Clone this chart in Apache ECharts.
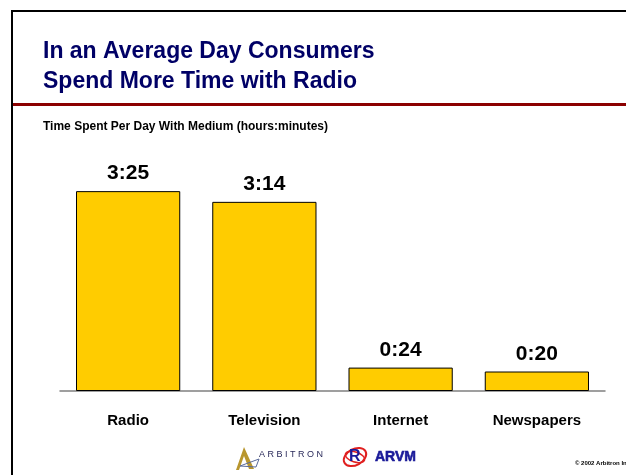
<!DOCTYPE html>
<html><head><meta charset="utf-8">
<script src="https://cdn.jsdelivr.net/npm/echarts@6/dist/echarts.min.js"></script>
<style>html,body{margin:0;padding:0;background:#fff}#c{width:626px;height:475px}</style>
</head><body><div id="c"></div>
<script>
const categories = ['Radio', 'Television', 'Internet', 'Newspapers'];
const minutesPerDay = [205, 194, 24, 20];
const valueLabels = ['3:25', '3:14', '0:24', '0:20'];

const chart = echarts.init(document.getElementById('c'), null, {renderer: 'canvas'});
const F = 'Liberation Sans, Arial, sans-serif';
chart.setOption({
  animation: false,
  backgroundColor: '#fff',
  grid: {left: 60, right: 21, top: 157, height: 234, containLabel: false},
  xAxis: {
    type: 'category', data: categories,
    axisLine: {lineStyle: {color: '#808080', width: 1.5}},
    axisTick: {show: false},
    axisLabel: {color: '#000', fontFamily: F, fontWeight: 'bold', fontSize: 15, margin: 22}
  },
  yAxis: {type: 'value', min: 0, max: 240, show: false, splitLine: {show: false}},
  series: [{
    type: 'bar', data: minutesPerDay, barCategoryGap: '23.5%',
    itemStyle: {color: '#FFCC00', borderColor: '#000', borderWidth: 1},
    label: {show: true, position: 'top', distance: 7, fontFamily: F, fontWeight: 'bold', fontSize: 21, color: '#000',
      formatter: p => valueLabels[p.dataIndex]}
  }],
  graphic: [
    {type: 'line', shape: {x1: 12, y1: 11, x2: 626, y2: 11}, style: {stroke: '#000', lineWidth: 2}},
    {type: 'line', shape: {x1: 12, y1: 10, x2: 12, y2: 475}, style: {stroke: '#000', lineWidth: 2}},
    {type: 'rect', shape: {x: 13, y: 103, width: 613, height: 3}, style: {fill: '#8B0000'}},
    {type: 'text', x: 43, y: 37, style: {text: 'In an Average Day Consumers\nSpend More Time with Radio', fill: '#000066', font: 'bold 23px ' + F, lineHeight: 30}},
    {type: 'text', x: 43, y: 121, style: {text: 'Time Spent Per Day With Medium (hours:minutes)', fill: '#000', font: 'bold 12px ' + F}},
    // Arbitron logo
    {type: 'polygon', shape: {points: [[236, 470], [244, 447], [254, 469], [249, 469], [244, 456], [239, 470]]}, style: {fill: '#B8962E'}},
    {type: 'polygon', shape: {points: [[240, 466], [259, 459], [256, 467]]}, style: {fill: 'none', stroke: '#5a6a9a', lineWidth: 1}},
    {type: 'text', x: 259, y: 450, style: {text: 'A R B I T R O N', fill: '#2a2a5a', font: '9px ' + F}},
    // ARVM logo
    {type: 'ellipse', shape: {cx: 355, cy: 457, rx: 12, ry: 8}, rotation: 0.5, originX: 355, originY: 457, style: {fill: 'none', stroke: '#E02020', lineWidth: 2}},
    {type: 'ellipse', shape: {cx: 355, cy: 457, rx: 10, ry: 5}, rotation: -0.3, originX: 355, originY: 457, style: {fill: 'none', stroke: '#E02020', lineWidth: 1.5}},
    {type: 'text', x: 349, y: 449, style: {text: 'R', fill: '#1a1a99', font: 'bold 16px ' + F}},
    {type: 'text', x: 375, y: 450, style: {text: 'ARVM', fill: '#1a1a99', font: 'bold 14px ' + F, stroke: '#1a1a99', lineWidth: 0.6}},
    {type: 'text', x: 575, y: 460, style: {text: '© 2002 Arbitron In', fill: '#000', font: 'bold 6px ' + F}}
  ]
});
</script></body></html>
